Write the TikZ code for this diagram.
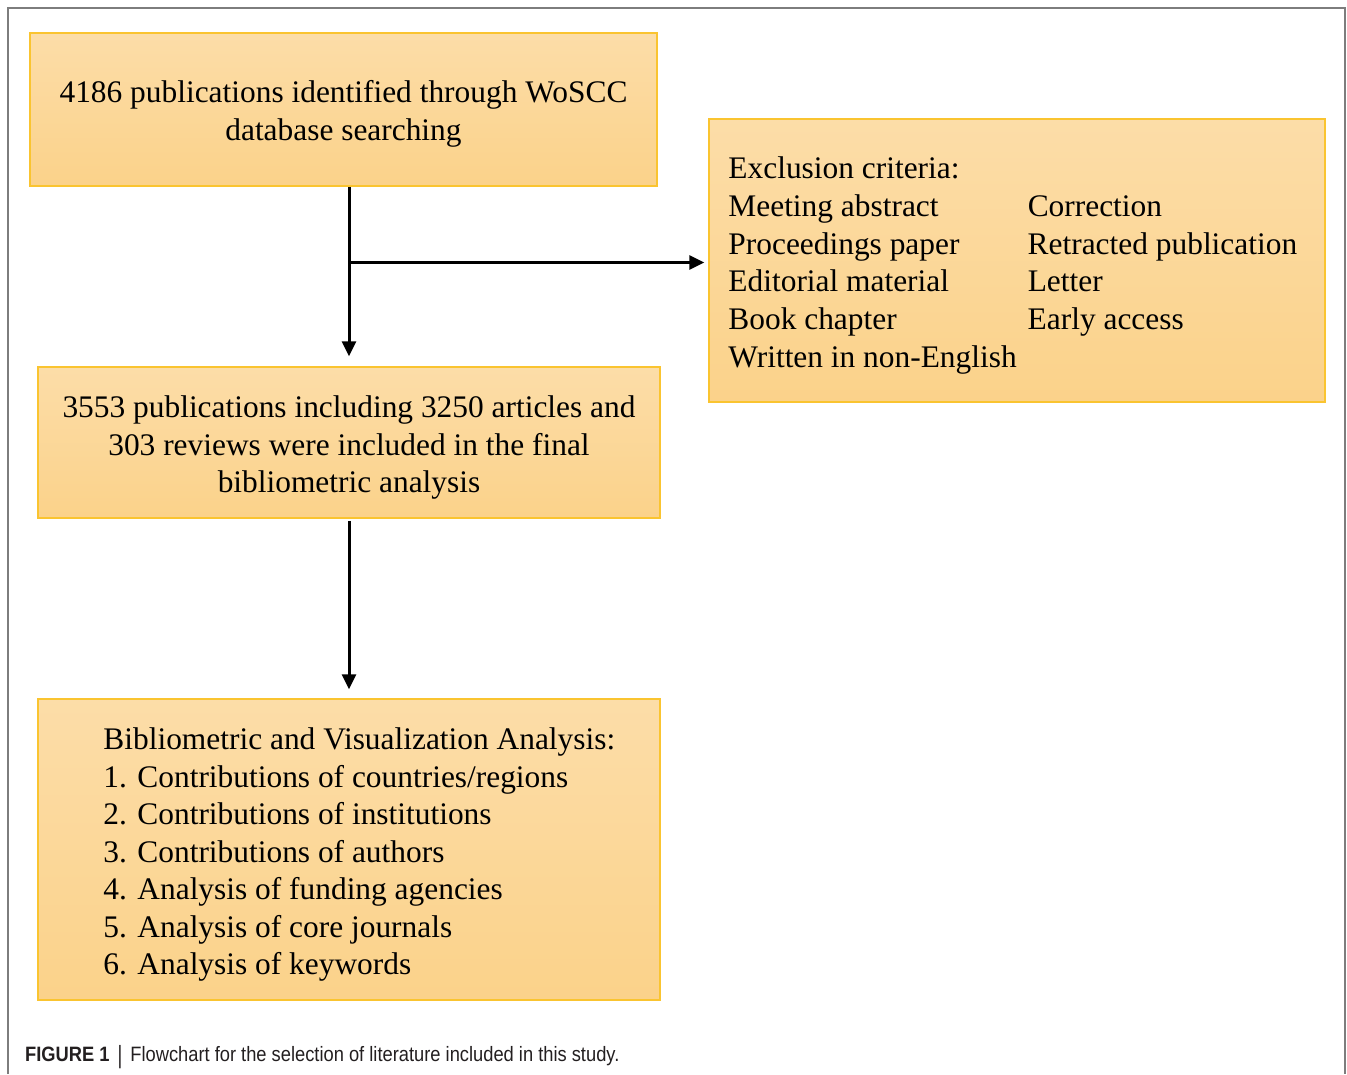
\documentclass[tikz,border=0pt]{standalone}
\usepackage{fontspec}
\setmainfont{Liberation Serif}
\newfontfamily\capfont[FakeStretch=0.88]{Liberation Sans}
\usetikzlibrary{arrows.meta}
\definecolor{boxtop}{RGB}{252,221,168}
\definecolor{boxbottom}{RGB}{251,210,138}
\definecolor{boxline}{RGB}{250,196,48}
\definecolor{framegray}{RGB}{125,125,125}
\definecolor{captext}{RGB}{35,31,32}

\begin{document}
\begin{tikzpicture}[x=1pt,y=-1pt,
	box/.style={draw=boxline, line width=1.5pt, top color=boxtop, bottom color=boxbottom, inner sep=0pt},
	boxtext/.style={inner sep=0pt, align=center, font=\fontsize{31.4}{37.7}\selectfont},
	flow/.style={line width=3pt, -{Triangle[length=15pt,width=14pt]}}]
	\useasboundingbox (0,0) rectangle (1347,1074);
	\draw[framegray, line width=1.2pt] (8,1074) -- (8,8) -- (1345,8) -- (1345,1074);

	\draw (343.5,109.5) node[box, minimum width=627pt, minimum height=153pt] (search) {};
	\draw (1017,260.5) node[box, minimum width=616pt, minimum height=283pt] (exclude) {};
	\draw (349,442.5) node[box, minimum width=622pt, minimum height=151pt] (included) {};
	\draw (349,849.5) node[box, minimum width=622pt, minimum height=301pt] (analysis) {};

	\draw ([yshift=-4pt]search.center) node[boxtext] (searchtext) {4186 publications identified through WoSCC\\database searching};
	\draw ([xshift=20pt, yshift=-5pt]exclude.west) node[boxtext, anchor=west] (excludetext) {\begin{tabular}{@{}l@{\hspace{11pt}}l@{}}
		Exclusion criteria: & \\
		Meeting abstract & Correction\\
		Proceedings paper & Retracted publication\\
		Editorial material & Letter\\
		Book chapter & Early access\\
		Written in non-English & \\
	\end{tabular}};
	\draw ([yshift=-5pt]included.center) node[boxtext] (includedtext) {3553 publications including 3250 articles and\\303 reviews were included in the final\\bibliometric analysis};
	\draw ([xshift=66pt, yshift=-5pt]analysis.west) node[boxtext, anchor=west, align=left, font=\fontsize{31.4}{37.5}\selectfont] (analysistext) {Bibliometric and Visualization Analysis:\\
		1. Contributions of countries/regions\\
		2. Contributions of institutions\\
		3. Contributions of authors\\
		4. Analysis of funding agencies\\
		5. Analysis of core journals\\
		6. Analysis of keywords};

	\coordinate (branch) at (included.north |- exclude.west);
	\draw[flow, shorten >=10pt] (included.north |- search.south) -- (included.north);
	\draw[flow, shorten >=4pt] ([yshift=-2pt]branch) -- ([yshift=-2pt]exclude.west);
	\draw[flow, shorten <=2pt, shorten >=9pt] (included.south) -- (analysis.north);

	\draw (25,1061) node[anchor=base west, inner sep=0pt, text=captext, font=\capfont\fontsize{20.8}{24}\selectfont] (caption) {\textbf{FIGURE 1}\hspace{8pt}\raisebox{-2pt}{\scalebox{1}[1.2]{|}}\hspace{8pt}Flowchart for the selection of literature included in this study.};
\end{tikzpicture}
\end{document}
